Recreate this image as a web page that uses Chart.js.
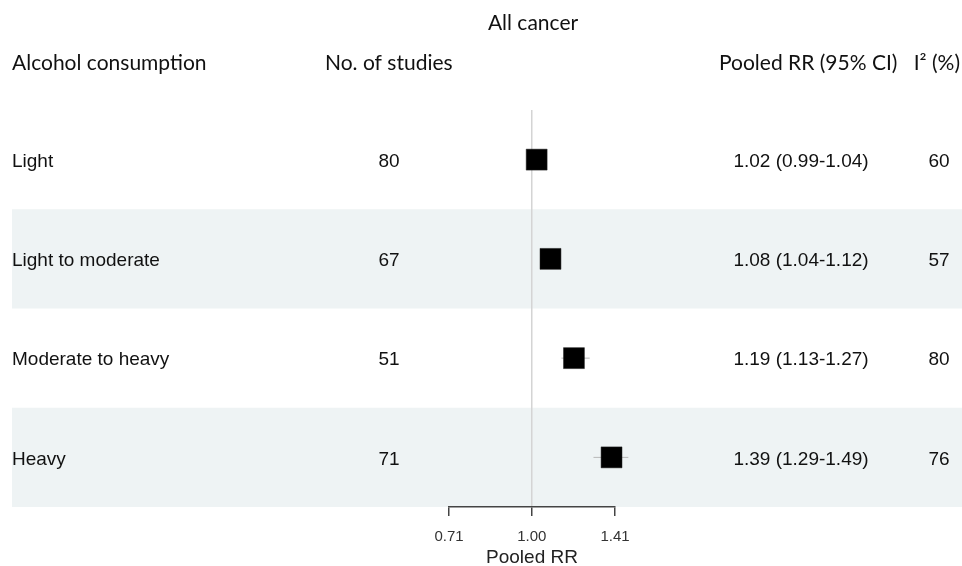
<!DOCTYPE html>
<html>
<head>
<meta charset="utf-8">
<script src="https://cdn.jsdelivr.net/npm/chart.js@4.4.0/dist/chart.umd.min.js"></script>
<style>
    html, body { margin: 0; padding: 0; background: #fff; }
    #wrap { width: 962px; height: 566px; }
</style>
</head>
<body>
<div id="wrap"><canvas id="forest"></canvas></div>
<script>
const categories = ['Light', 'Light to moderate', 'Moderate to heavy', 'Heavy'];
const studies = [80, 67, 51, 71];
const pooledRR = [1.02, 1.08, 1.19, 1.39];
const lowerCI = [0.99, 1.04, 1.13, 1.29];
const upperCI = [1.04, 1.12, 1.27, 1.49];
const iSquared = [60, 57, 80, 76];
const xTicks = [0.71, 1.00, 1.41];

const rowFont = '19px "Liberation Sans", Arial, sans-serif';
const headFont = '21px Lato, "Open Sans", sans-serif';

// shaded bands behind every second row, plus the table text
const tablePlugin = {
    id: 'forestTable',
    beforeDraw(chart) {
        const { ctx, scales: { y } } = chart;
        ctx.save();
        ctx.fillStyle = '#eef3f4';
        categories.forEach((c, i) => {
            if (i % 2 === 0) return;
            const top = y.getPixelForValue(i + 0.5);
            const bottom = y.getPixelForValue(i + 1.5);
            ctx.fillRect(12, top, 962 - 12, bottom - top);
        });
        ctx.restore();
    },
    afterDraw(chart) {
        const { ctx, scales: { y } } = chart;
        ctx.save();
        ctx.fillStyle = '#111';
        ctx.textBaseline = 'middle';

        ctx.font = headFont;
        ctx.textAlign = 'center';
        ctx.fillText('All cancer', 533, 23);
        ctx.textAlign = 'left';
        ctx.fillText('Alcohol consumption', 12, 63);
        ctx.fillText('No. of studies', 325, 63);
        ctx.fillText('Pooled RR (95% CI)', 719, 63);
        ctx.textAlign = 'right';
        ctx.fillText('I\u00B2 (%)', 960, 63);

        ctx.font = rowFont;
        categories.forEach((c, i) => {
            const py = y.getPixelForValue(i + 1) + 2;
            ctx.textAlign = 'left';
            ctx.fillText(c, 12, py);
            ctx.textAlign = 'center';
            ctx.fillText(String(studies[i]), 389, py);
            const ci = `${pooledRR[i].toFixed(2)} (${lowerCI[i].toFixed(2)}-${upperCI[i].toFixed(2)})`;
            ctx.fillText(ci, 801, py);
            ctx.fillText(String(iSquared[i]), 939, py);
        });
        ctx.restore();
    }
};

const ciSets = categories.map((c, i) => ({
    type: 'line',
    data: [{ x: lowerCI[i], y: i + 1 }, { x: upperCI[i], y: i + 1 }],
    borderColor: '#b8b8b8',
    borderWidth: 1,
    pointRadius: 0,
    clip: false,
    order: 2
}));

new Chart(document.getElementById('forest'), {
    type: 'scatter',
    data: {
        datasets: [
            ...ciSets,
            {
                data: pooledRR.map((v, i) => ({ x: v, y: i + 1 })),
                pointStyle: 'rect',
                pointRadius: 14.8,
                backgroundColor: '#000',
                borderColor: '#222',
                borderWidth: 0.5,
                clip: false,
                order: 1
            }
        ]
    },
    options: {
        responsive: true,
        maintainAspectRatio: false,
        animation: false,
        layout: { padding: { left: 449, right: 347, top: 110, bottom: 0 } },
        plugins: { legend: { display: false }, tooltip: { enabled: false } },
        scales: {
            x: {
                type: 'logarithmic',
                min: 0.71,
                max: 1.41,
                afterBuildTicks: scale => { scale.ticks = xTicks.map(v => ({ value: v })); },
                afterFit: scale => { scale.height = 59; },
                ticks: {
                    autoSkip: false,
                    maxRotation: 0,
                    padding: 12,
                    color: '#333',
                    font: { family: '"Liberation Sans", Arial, sans-serif', size: 15 },
                    callback: v => Number(v).toFixed(2)
                },
                grid: {
                    drawOnChartArea: true,
                    tickLength: 9,
                    tickColor: '#444',
                    color: ctx => (ctx.tick && ctx.tick.value === 1 ? '#d4d4d4' : 'rgba(0,0,0,0)'),
                    lineWidth: 1.5
                },
                border: { display: true, color: '#444', width: 1.5 },
                title: {
                    display: true,
                    text: 'Pooled RR',
                    color: '#222',
                    padding: { top: 0, bottom: -3 },
                    font: { family: '"Liberation Sans", Arial, sans-serif', size: 19 }
                }
            },
            y: {
                type: 'linear',
                display: false,
                reverse: true,
                min: 0.5,
                max: 4.5
            }
        }
    },
    plugins: [tablePlugin]
});
</script>
</body>
</html>
